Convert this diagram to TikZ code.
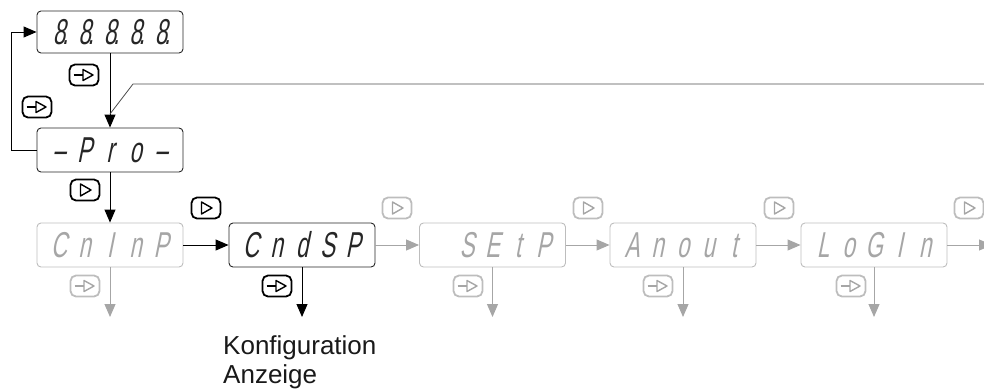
\documentclass[tikz,border=0pt]{standalone}
\usepackage{fontspec}
\setmainfont{Liberation Sans}
\newfontfamily\segfont{Liberation Sans}[FakeSlant=0.2,FakeStretch=0.62]
\usetikzlibrary{arrows.meta}
\definecolor{gy}{HTML}{A6A6A6}
\definecolor{gybox}{HTML}{BDBDBD}
\newcommand\dg[2][]{\makebox[25.5pt]{#2\rlap{#1}}}
\newcommand\btnplay[2]{\draw[#2, line width=1.4pt, line join=round] ([shift={(-4.5,-6)}]#1.center) -- ([shift={(-4.5,6)}]#1.center) -- ([shift={(6,0)}]#1.center) -- cycle;}
\newcommand\btnenter[2]{\draw[#2, line width=1.4pt] ([shift={(-10.5,0)}]#1.center) -- ([shift={(-1,0)}]#1.center);
  \draw[#2, line width=1.4pt, line join=round] ([shift={(-1,-5.5)}]#1.center) -- ([shift={(-1,5.5)}]#1.center) -- ([shift={(9,0)}]#1.center) -- cycle;}
\tikzset{
  disp/.style={draw, rounded corners=4pt, line width=0.9pt, minimum width=146pt, minimum height=44pt,
    inner sep=0pt, text height=25pt, text depth=0pt, font=\segfont\fontsize{36}{36}\selectfont},
  dispk/.style={disp, draw=black!85, text=black!85},
  dispg/.style={disp, draw=gybox, text=gy},
  btn/.style={draw, rounded corners=5.5pt, line width=1.8pt, minimum width=29pt, minimum height=21pt, inner sep=0pt},
  btnk/.style={btn, draw=black},
  btng/.style={btn, draw=gybox},
  kar/.style={draw=black, line width=1pt, -{Triangle[length=13pt,width=11pt]}},
  gar/.style={draw=gy, line width=1pt, -{Triangle[length=13pt,width=11pt]}},
}
\begin{document}
\begin{tikzpicture}[x=1pt,y=-1pt]
\useasboundingbox (0,0) rectangle (984,389);
% displays
\node[dispk, minimum height=42pt] (top) at (110,32) {\dg[\kern-3pt.]{8}\dg[\kern-3pt.]{8}\dg[\kern-3pt.]{8}\dg[\kern-3pt.]{8}\dg[\kern-3pt.]{8}};
\node[dispk] (pro) at (110,150) {\dg{–}\dg{P}\dg{r}\dg{o}\dg{–}};
\node[dispg] (cninp) at (110,245) {\dg{C}\dg{n}\dg{I}\dg{n}\dg{P}};
\node[dispk] (cndsp) at (302,245) {\dg{C}\dg{n}\dg{d}\dg{S}\dg{P}};
\node[dispg] (setp) at (492.5,245) {\dg{}\dg{S}\dg{E}\dg{t}\dg{P}};
\node[dispg] (anout) at (683,245) {\dg{A}\dg{n}\dg{o}\dg{u}\dg{t}};
\node[dispg] (login) at (874,245) {\dg{L}\dg{o}\dg{G}\dg{I}\dg{n}};
% buttons
\node[btnk] (b1) at (84,75) {}; \btnenter{b1}{black}
\node[btnk] (b2) at (37,107) {}; \btnenter{b2}{black}
\node[btnk] (b3) at (85,190) {}; \btnplay{b3}{black}
\node[btnk] (p1) at (206,208) {}; \btnplay{p1}{black}
\node[btng] (p2) at (397,208) {}; \btnplay{p2}{gy}
\node[btng] (p3) at (588,208) {}; \btnplay{p3}{gy}
\node[btng] (p4) at (779,208) {}; \btnplay{p4}{gy}
\node[btng] (p5) at (969,208) {}; \btnplay{p5}{gy}
\node[btng] (e1) at (85,286) {}; \btnenter{e1}{gy}
\node[btnk] (e2) at (277,286) {}; \btnenter{e2}{black}
\node[btng] (e3) at (468,286) {}; \btnenter{e3}{gy}
\node[btng] (e4) at (658,286) {}; \btnenter{e4}{gy}
\node[btng] (e5) at (851,286) {}; \btnenter{e5}{gy}
% coordinates
\coordinate (rin) at (990,84);
\coordinate (rbend) at (133,84);
\coordinate (rjoin) at (110,114);
\coordinate (rowend) at (992,245);
\coordinate (d1) at (110,317);
\coordinate (d2) at (302,317);
\coordinate (d3) at (492.5,317);
\coordinate (d4) at (683,317);
\coordinate (d5) at (874,317);
% connectors
\draw[kar] (top.south) -- (pro.north);
\draw[black!70, line width=0.8pt] (rin) -- (rbend) -- (rjoin);
\draw[kar] (pro.west) -- ++(-25,0) |- (top.west);
\draw[kar] (pro.south) -- (cninp.north);
\draw[kar] (cninp.east) -- (cndsp.west);
\draw[gar] (cndsp.east) -- (setp.west);
\draw[gar] (setp.east) -- (anout.west);
\draw[gar] (anout.east) -- (login.west);
\draw[gar] (login.east) -- (rowend);
\draw[gar] (cninp.south) -- (d1);
\draw[kar] (cndsp.south) -- (d2);
\draw[gar] (setp.south) -- (d3);
\draw[gar] (anout.south) -- (d4);
\draw[gar] (login.south) -- (d5);
% label
\node[anchor=north west, align=left, inner sep=0pt, font=\fontsize{26}{29}\selectfont, text=black!90] (lbl) at (223,335) {Konfiguration\\Anzeige};
\end{tikzpicture}
\end{document}
